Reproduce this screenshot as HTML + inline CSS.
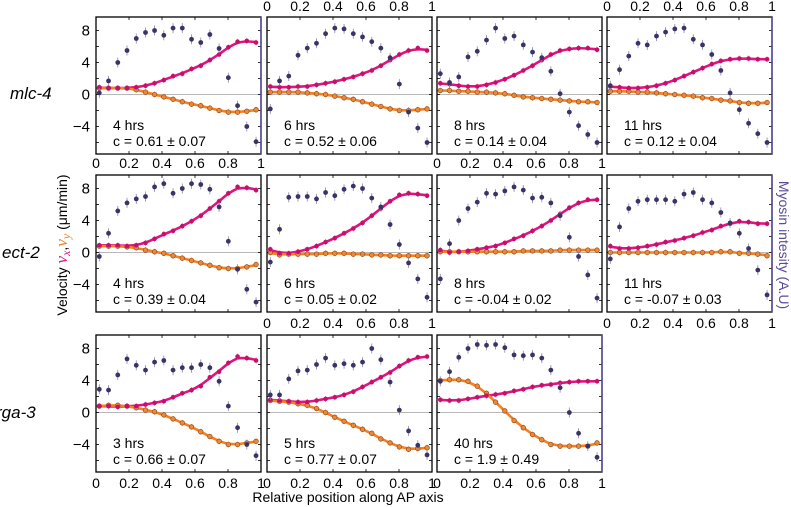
<!DOCTYPE html>
<html><head><meta charset="utf-8">
<style>
html,body{margin:0;padding:0;background:#fff;}
svg{display:block;font-family:"Liberation Sans",sans-serif;}
</style></head>
<body>
<svg id="fig" width="791" height="507" viewBox="0 0 791 507">
<text x="10" y="99" font-size="17" font-style="italic" fill="#000">mlc-4</text>
<text x="2" y="258" font-size="17" font-style="italic" fill="#000">ect-2</text>
<text x="-4" y="418" font-size="17" font-style="italic" fill="#000">rga-3</text>
<text transform="translate(67,245) rotate(-90)" text-anchor="middle" font-size="14" fill="#000">Velocity <tspan fill="#e0147e" font-family="Liberation Serif,serif" font-style="italic" font-size="17">v<tspan font-size="12" dy="3">x</tspan></tspan><tspan dy="-3">,</tspan><tspan fill="#f08020" font-family="Liberation Serif,serif" font-style="italic" font-size="17">v<tspan font-size="12" dy="3">y</tspan></tspan><tspan dy="-3"> (μm/min)</tspan></text>
<text transform="translate(779,245) rotate(90)" text-anchor="middle" font-size="14" fill="#5a4a9c">Myosin intesity (A.U)</text>
<text x="348" y="502" text-anchor="middle" font-size="14" fill="#000">Relative position along AP axis</text>
<g id="panels"></g>
</svg>
<script>
const positions = [0.02,0.076,0.132,0.188,0.244,0.3,0.355,0.411,0.467,0.523,0.579,0.635,0.69,0.746,0.802,0.858,0.914,0.97];
const panelTimes = ["4 hrs","6 hrs","8 hrs","11 hrs","4 hrs","6 hrs","8 hrs","11 hrs","3 hrs","5 hrs","40 hrs"];
const panelC = ["c = 0.61 ± 0.07","c = 0.52 ± 0.06","c = 0.14 ± 0.04","c = 0.12 ± 0.04","c = 0.39 ± 0.04","c = 0.05 ± 0.02","c = -0.04 ± 0.02","c = -0.07 ± 0.03","c = 0.66 ± 0.07","c = 0.77 ± 0.07","c = 1.9 ± 0.49"];
const myosin = [
[0.2,1.7,4.0,5.5,7.0,7.75,8.0,7.4,8.3,8.3,6.9,6.5,7.5,5.75,2.1,-1.4,-4.0,-5.9],
[-1.8,1.7,2.3,4.9,5.8,6.4,7.6,8.3,8.2,7.6,7.2,6.6,5.8,4.6,1.3,-2.2,-4.2,-6.0],
[2.6,1.5,2.2,4.7,5.4,6.8,8.3,7.0,7.3,6.2,5.3,4.6,2.9,0.1,-2.2,-3.9,-5.0,-6.0],
[1.1,3.1,4.8,6.4,6.2,7.3,7.8,8.2,8.3,6.9,6.2,5.0,3.0,0.2,-1.9,-3.6,-4.9,-6.0],
[-0.5,2.4,5.2,6.2,6.7,7.0,8.2,8.6,7.4,8.0,8.6,8.5,7.9,5.7,1.4,-2.1,-4.6,-6.2],
[-1.2,2.9,6.9,7.0,7.0,6.7,7.5,7.1,7.9,8.3,8.0,6.8,5.7,3.5,1.0,-1.3,-3.3,-5.6],
[-3.3,1.1,4.0,5.5,6.3,7.4,7.3,7.7,8.2,7.8,6.8,6.9,6.2,4.6,1.9,-0.5,-2.8,-5.7],
[-0.8,3.2,5.5,6.4,6.6,6.6,6.6,6.4,7.3,7.5,6.6,6.2,5.0,3.7,2.4,0.5,-2.2,-5.3],
[2.9,2.8,4.7,6.7,5.9,5.3,6.3,6.5,5.3,5.6,5.6,6.0,5.6,3.9,0.8,-1.9,-4.0,-5.4],
[2.2,2.2,4.2,5.2,5.3,6.0,6.8,5.9,6.1,5.9,6.3,8.0,6.6,3.8,0.3,-2.3,-4.1,-5.3],
[3.9,5.1,6.9,8.0,8.5,8.4,8.5,8.1,7.2,7.1,7.2,6.8,5.3,3.1,0.0,-2.6,-4.2,-5.6]];
const vx = [
[0.9,0.8,0.8,0.8,0.9,1.1,1.4,1.8,2.3,2.6,3.2,3.6,4.3,5.0,5.9,6.6,6.7,6.5],
[1.0,0.9,0.9,1.0,1.0,1.2,1.4,1.6,1.9,2.2,2.6,3.0,3.6,4.3,5.0,5.5,5.8,5.5],
[1.4,1.3,1.1,1.0,1.0,1.2,1.5,1.9,2.4,3.0,3.6,4.3,5.0,5.5,5.7,5.8,5.8,5.6],
[1.0,0.9,0.8,0.8,0.9,1.1,1.4,1.8,2.3,2.8,3.3,3.8,4.2,4.4,4.5,4.5,4.4,4.4],
[0.9,0.9,0.9,0.8,0.9,1.2,1.7,2.3,2.7,3.3,3.9,4.6,5.5,6.4,7.4,8.2,8.1,7.8],
[0.4,-0.1,-0.1,0.1,0.4,0.8,1.3,1.8,2.4,3.0,3.7,4.6,5.5,6.4,7.2,7.4,7.3,7.1],
[0.3,0.0,0.1,0.2,0.4,0.6,0.8,1.2,1.7,2.1,2.7,3.3,4.0,4.8,5.6,6.2,6.6,6.6],
[0.8,0.5,0.5,0.6,0.8,1.0,1.3,1.5,1.8,2.1,2.5,2.8,3.3,3.6,3.9,3.8,3.6,3.6],
[0.8,0.8,0.7,0.8,0.8,1.0,1.2,1.4,1.9,2.4,2.8,3.3,4.4,5.1,6.2,7.0,6.8,6.5],
[1.6,1.5,1.4,1.3,1.3,1.5,1.7,1.9,2.2,2.6,3.2,3.8,4.4,5.0,5.8,6.5,6.9,7.0],
[1.6,1.5,1.5,1.7,1.9,2.1,2.25,2.4,2.7,2.9,3.2,3.4,3.5,3.7,3.8,3.9,3.9,3.9]];
const vy = [
[0.8,0.8,0.8,0.8,0.6,0.3,0.0,-0.3,-0.6,-0.9,-1.2,-1.4,-1.7,-2.0,-2.2,-2.2,-2.1,-1.9],
[0.3,0.3,0.3,0.3,0.2,0.1,0.0,-0.2,-0.4,-0.6,-0.9,-1.2,-1.5,-1.8,-2.0,-2.0,-1.9,-1.8],
[0.5,0.5,0.4,0.4,0.3,0.3,0.2,0.1,-0.1,-0.3,-0.4,-0.5,-0.6,-0.7,-0.8,-0.9,-0.9,-1.0],
[0.4,0.4,0.4,0.3,0.3,0.2,0.1,0.0,-0.1,-0.2,-0.4,-0.5,-0.7,-0.8,-1.0,-1.1,-1.1,-1.0],
[0.8,0.8,0.8,0.7,0.6,0.3,0.1,-0.1,-0.4,-0.7,-1.0,-1.3,-1.6,-1.9,-2.0,-2.0,-1.8,-1.5],
[0.0,-0.3,-0.2,-0.2,-0.2,-0.2,-0.1,-0.1,-0.1,-0.2,-0.2,-0.3,-0.3,-0.4,-0.4,-0.4,-0.4,-0.4],
[0.1,0.1,0.1,0.1,0.1,0.1,0.1,0.1,0.1,0.2,0.2,0.2,0.2,0.3,0.3,0.3,0.3,0.3],
[0.0,0.0,0.0,0.0,0.0,0.0,0.0,0.0,0.0,0.0,0.0,0.0,0.1,0.1,-0.1,-0.1,-0.2,-0.4],
[0.8,0.9,0.9,0.8,0.6,0.3,0.1,-0.3,-0.8,-1.3,-1.8,-2.4,-3.0,-3.6,-4.0,-4.0,-3.8,-3.6],
[1.5,1.4,1.3,1.1,0.9,0.5,0.0,-0.6,-1.1,-1.6,-2.1,-2.6,-3.3,-3.8,-4.3,-4.6,-4.5,-4.4],
[4.0,4.1,4.1,3.9,3.3,2.4,1.3,0.2,-1.0,-1.9,-2.75,-3.4,-4.0,-4.2,-4.2,-4.2,-4.2,-3.8]];
const xTickLabels = ["0","0.2","0.4","0.6","0.8","1"];
const xTickValues = [0,0.2,0.4,0.6,0.8,1];
const yTickLabels = ["8","4","0","\u22124"];
const yTickValues = [8,4,0,-4];

const NS="http://www.w3.org/2000/svg";
const colLeft=[96,267,437,607], rowTop=[17,175,335], PW=165, PH=137, ZERO=77.5, UNIT=8;
const root=document.getElementById('panels');
function mk(tag,attrs,parent){const e=document.createElementNS(NS,tag);for(const k in attrs)e.setAttribute(k,attrs[k]);(parent||root).appendChild(e);return e;}
function spline(pts){let d="M"+pts[0][0].toFixed(1)+","+pts[0][1].toFixed(1);for(let i=0;i<pts.length-1;i++){const p0=pts[Math.max(0,i-1)],p1=pts[i],p2=pts[i+1],p3=pts[Math.min(pts.length-1,i+2)];d+=" C"+(p1[0]+(p2[0]-p0[0])/6).toFixed(1)+","+(p1[1]+(p2[1]-p0[1])/6).toFixed(1)+" "+(p2[0]-(p3[0]-p1[0])/6).toFixed(1)+","+(p2[1]-(p3[1]-p1[1])/6).toFixed(1)+" "+p2[0].toFixed(1)+","+p2[1].toFixed(1);}return d;}
function smooth(a){return a.map((v,i)=>{const l=a[Math.max(0,i-1)],r=a[Math.min(a.length-1,i+1)];return (l+2*v+r)/4;});}

const xLabelRows=[[11,[1,3]],[168,[0,2]],[328,[5,7]],[488,[8,9,10]]];

for(let p=0;p<11;p++){
  const r=Math.floor(p/4), c=p%4, L=colLeft[c], T=rowTop[r];
  const sx=v=>L+v*PW, sy=v=>T+ZERO-v*UNIT;
  const g=mk('g',{});
  
  
  const zl=mk('line',{x1:L,x2:L+PW,y1:sy(0),y2:sy(0),stroke:'#b8b8b8','stroke-width':1},g);
  
  
  for(let t=-6;t<=8;t+=2){mk('line',{x1:L,x2:L+3,y1:sy(t),y2:sy(t),stroke:'#000','stroke-width':0.8},g);mk('line',{x1:L+PW-3,x2:L+PW,y1:sy(t),y2:sy(t),stroke:'#000','stroke-width':0.8},g);}
  for(const t of xTickValues){mk('line',{x1:sx(t),x2:sx(t),y1:T,y2:T+3,stroke:'#000','stroke-width':0.8},g);mk('line',{x1:sx(t),x2:sx(t),y1:T+PH-3,y2:T+PH,stroke:'#000','stroke-width':0.8},g);}
  const fx=mk('path',{d:spline(positions.map((x,i)=>[sx(x),sy(smooth(vx[p])[i])])),fill:'none',stroke:'#e0147e','stroke-width':2.6},g);
  
  
  const fy=mk('path',{d:spline(positions.map((x,i)=>[sx(x),sy(smooth(vy[p])[i])])),fill:'none',stroke:'#f7801c','stroke-width':2.6},g);
  
  
  positions.forEach((x,i)=>{
    const X=sx(x);
    mk('line',{x1:X,x2:X,y1:sy(vy[p][i])-3,y2:sy(vy[p][i])+3,stroke:'#f3a060','stroke-width':0.8},g);
    const o=mk('circle',{cx:X,cy:sy(vy[p][i]),r:2.3,fill:'#e88a3a',stroke:'#9a4a1a','stroke-width':0.7},g);
    
    
    mk('line',{x1:X,x2:X,y1:sy(vx[p][i])-3,y2:sy(vx[p][i])+3,stroke:'#ee80b8','stroke-width':0.8},g);
    const k=mk('circle',{cx:X,cy:sy(vx[p][i]),r:2.3,fill:'#c4106c'},g);
    
    
    mk('line',{x1:X,x2:X,y1:sy(myosin[p][i])-5,y2:sy(myosin[p][i])+5,stroke:'#8a84aa','stroke-width':0.8},g);
    const m=mk('circle',{cx:X,cy:sy(myosin[p][i]),r:2.4,fill:'#3a3466'},g);
    
    
  });
  const rightPurple=(c===3||p===10||p===0);
  mk('rect',{x:L,y:T,width:PW,height:PH,fill:'none',stroke:'#000','stroke-width':1.3},g);
  if(rightPurple) mk('line',{x1:L+PW,x2:L+PW,y1:T,y2:T+PH,stroke:'#5a4a9c','stroke-width':1.5},g);
  const t1=mk('text',{x:L+17,y:T+113,'font-size':14,fill:'#000'},g); t1.textContent=panelTimes[p];
  
  
  const t2=mk('text',{x:L+17,y:T+129,'font-size':14,fill:'#000'},g); t2.textContent=panelC[p];
  
  
  if(c===0){yTickValues.forEach((v,j)=>{const t=mk('text',{x:L-6,y:sy(v)+5,'font-size':15,'text-anchor':'end',fill:'#000'},g);t.textContent=yTickLabels[j];
    
    });}
}
xLabelRows.forEach(([yb,list])=>{list.forEach(p=>{const L=colLeft[p%4];xTickValues.forEach((v,j)=>{const t=mk('text',{x:L+v*PW,y:yb,'font-size':14,'text-anchor':'middle',fill:'#000'});t.textContent=xTickLabels[j];
  
  });});});
</script>
</body></html>
